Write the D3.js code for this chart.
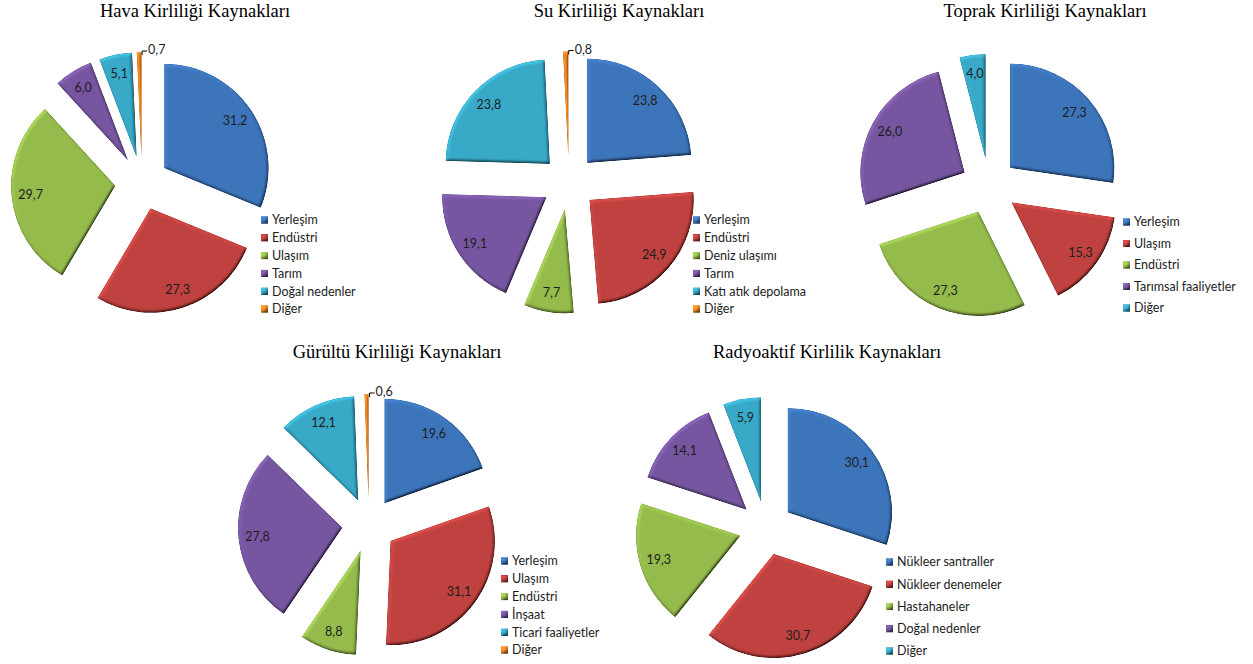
<!DOCTYPE html>
<html>
<head>
<meta charset="utf-8">
<script src="https://cdn.jsdelivr.net/npm/d3@7"></script>
<style>
  body { margin: 0; background: #fff; }
  svg { display: block; }
</style>
</head>
<body>
<div id="chart"></div>
<script>
// data
const havaLabels = ["Yerleşim", "Endüstri", "Ulaşım", "Tarım", "Doğal nedenler", "Diğer"];
const havaValues = [31.2, 27.3, 29.7, 6.0, 5.1, 0.7];

const suLabels = ["Yerleşim", "Endüstri", "Deniz ulaşımı", "Tarım", "Katı atık depolama", "Diğer"];
const suValues = [23.8, 24.9, 7.7, 19.1, 23.8, 0.8];

const toprakLabels = ["Yerleşim", "Ulaşım", "Endüstri", "Tarımsal faaliyetler", "Diğer"];
const toprakValues = [27.3, 15.3, 27.3, 26.0, 4.0];

const gurultuLabels = ["Yerleşim", "Ulaşım", "Endüstri", "İnşaat", "Ticari faaliyetler", "Diğer"];
const gurultuValues = [19.6, 31.1, 8.8, 27.8, 12.1, 0.6];

const radyoLabels = ["Nükleer santraller", "Nükleer denemeler", "Hastahaneler", "Doğal nedenler", "Diğer"];
const radyoValues = [30.1, 30.7, 19.3, 14.1, 5.9];

const titles = ["Hava Kirliliği Kaynakları", "Su Kirliliği Kaynakları", "Toprak Kirliliği Kaynakları",
                "Gürültü Kirliliği Kaynakları", "Radyoaktif Kirlilik Kaynakları"];

const palette = ["#3d75bb", "#c0423f", "#95bb4c", "#7757a1", "#38a9c7", "#ec8522"];

const width = 1253, height = 664;
const R = 104;

// layout of the five charts
const charts = [
  { title: titles[0], labels: havaLabels, values: havaValues, cx: 142, cy: 183, ex: 27,
    tx: 195, ty: 17, lx: 261, ly: 220, step: 17.8 },
  { title: titles[1], labels: suLabels, values: suValues, cx: 569, cy: 182.5, ex: 27,
    tx: 619, ty: 17, lx: 693, ly: 220, step: 17.8 },
  { title: titles[2], labels: toprakLabels, values: toprakValues, cx: 989, cy: 186, ex: 28,
    tx: 1045, ty: 17, lx: 1123, ly: 222, step: 21.5 },
  { title: titles[3], labels: gurultuLabels, values: gurultuValues, cx: 369, cy: 525, ex: 27,
    tx: 397, ty: 358, lx: 501, ly: 561, step: 17.8 },
  { title: titles[4], labels: radyoLabels, values: radyoValues, cx: 766, cy: 528, ex: 27,
    tx: 827, ty: 358, lx: 886, ly: 562, step: 22.25 }
];

const svg = d3.select("#chart")
  .append("svg")
  .attr("width", width)
  .attr("height", height);

// bevel look (light edge top-left, dark edge bottom-right)
const defs = svg.append("defs");
const f = defs.append("filter").attr("id", "bevel")
  .attr("x", "-10%").attr("y", "-10%").attr("width", "120%").attr("height", "120%");
f.append("feGaussianBlur").attr("in", "SourceAlpha").attr("stdDeviation", 1.4).attr("result", "blur");
f.append("feDiffuseLighting").attr("in", "blur").attr("surfaceScale", 1.8)
  .attr("diffuseConstant", 1).attr("lighting-color", "#fff").attr("result", "diff")
  .append("feDistantLight").attr("azimuth", 235).attr("elevation", 45);
f.append("feComposite").attr("in", "SourceGraphic").attr("in2", "diff")
  .attr("operator", "arithmetic").attr("k1", 1.414).attr("k2", 0).attr("k3", 0).attr("k4", 0);

const fmt = d3.formatLocale({ decimal: ",", thousands: ".", grouping: [3], currency: ["", ""] }).format(".1f");

const pie = d3.pie().sort(null).value(d => d);
const arc = d3.arc().innerRadius(0).outerRadius(R);
const labelArc = d3.arc().innerRadius(85).outerRadius(85);

const color = d3.scaleOrdinal().domain(d3.range(6)).range(palette);

const sans = "Lato, 'Open Sans', sans-serif";

charts.forEach(function (c) {
  const g = svg.append("g");

  // title
  g.append("text")
    .attr("x", c.tx)
    .attr("y", c.ty)
    .attr("text-anchor", "middle")
    .style("font-family", "'Liberation Serif', 'Times New Roman', serif")
    .style("font-size", "18.5px")
    .style("fill", "#000")
    .text(c.title);

  const arcs = pie(c.values);
  const dir = d => {
    const m = (d.startAngle + d.endAngle) / 2;
    return [Math.sin(m), -Math.cos(m)];
  };

  const slices = g.selectAll(".slice")
    .data(arcs)
    .enter().append("g")
    .attr("class", "slice")
    .attr("transform", function (d) {
      const v = dir(d);
      return "translate(" + (c.cx + v[0] * c.ex) + "," + (c.cy + v[1] * c.ex) + ")";
    });

  slices.append("path")
    .attr("d", arc)
    .style("fill", (d, i) => color(i))
    .attr("filter", "url(#bevel)");

  // data labels inside
  slices.filter(d => d.data >= 2).append("text")
    .attr("transform", d => "translate(" + labelArc.centroid(d) + ")")
    .attr("text-anchor", "middle")
    .attr("dy", ".35em")
    .style("font-family", sans)
    .style("font-size", "12.5px")
    .style("fill", "#1d1d1d")
    .text(d => fmt(d.data));

  // tiny slices: label outside with a short leader
  const small = slices.filter(d => d.data < 2);
  small.append("path")
    .attr("d", function (d) {
      const v = dir(d);
      const tx = v[0] * R, ty = v[1] * R;
      return "M" + (tx + 3) + "," + (ty + 3) + "V" + (ty - 1) + "H" + (tx + 8);
    })
    .style("fill", "none")
    .style("stroke", "#000")
    .style("stroke-width", 1);
  small.append("text")
    .attr("x", d => dir(d)[0] * R + 9)
    .attr("y", d => dir(d)[1] * R - 2)
    .attr("dy", ".35em")
    .style("font-family", sans)
    .style("font-size", "12.5px")
    .style("fill", "#1d1d1d")
    .text(d => fmt(d.data));

  // legend
  const legend = g.selectAll(".legend")
    .data(c.labels)
    .enter().append("g")
    .attr("class", "legend")
    .attr("transform", (d, i) => "translate(" + c.lx + "," + (c.ly + i * c.step) + ")");

  legend.append("rect")
    .attr("x", 0)
    .attr("y", -3.5)
    .attr("width", 7)
    .attr("height", 7)
    .style("fill", (d, i) => color(i))
    .attr("filter", "url(#bevel)");

  legend.append("text")
    .attr("x", 11)
    .attr("y", 0)
    .attr("dy", ".35em")
    .style("font-family", sans)
    .style("font-size", "12.5px")
    .style("fill", "#1d1d1d")
    .text(d => d);
});
</script>
</body>
</html>
